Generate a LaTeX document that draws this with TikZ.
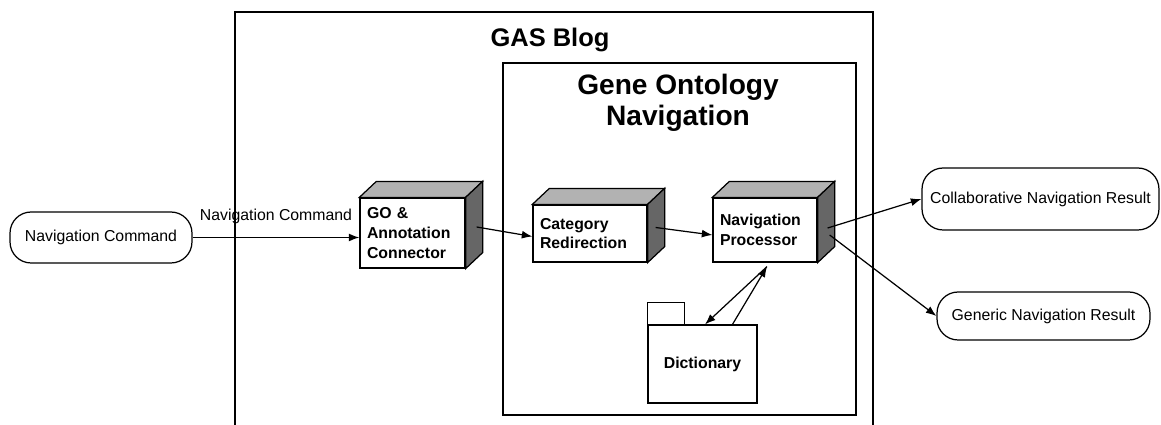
\documentclass[tikz,border=0pt]{standalone}
\usepackage{fontspec}
\setmainfont{Liberation Sans}
\usetikzlibrary{arrows.meta,calc}
\def\dx{17}
\def\dy{-16}
% shaded top and side of a box node
\newcommand\cubeface[1]{%
	\draw[fill=black!30] (#1.north west) -- ++(\dx,\dy) -- ([shift={(\dx,\dy)}]#1.north east) -- (#1.north east) -- cycle;
	\draw[fill=black!60] (#1.north east) -- ++(\dx,\dy) -- ([shift={(\dx,\dy)}]#1.south east) -- (#1.south east) -- cycle;}
\tikzset{
	cube/.style={draw, fill=white, align=left, inner xsep=4pt, font=\bfseries\fontsize{9}{11.3}\selectfont},
	state/.style={draw, rounded corners=12pt, inner sep=0pt, font=\fontsize{9}{11}\selectfont},
	folder/.style={draw, fill=white, inner sep=0pt, font=\bfseries\fontsize{9}{11}\selectfont},
	arr/.style={-{Latex[length=6pt,width=4.5pt]}},
	frame/.style={line width=0.9pt}
}

\begin{document}
\begin{tikzpicture}[x=0.02cm, y=-0.02cm, line width=0.7pt]
	\useasboundingbox (0,0) rectangle (1161,425);
	
	\draw[frame] (235,425) -- (235,12) -- (873,12) -- (873,425);
	\node[font=\bfseries\fontsize{14.5}{17}\selectfont] (blog) at (550,40) {GAS Blog};
	
	\draw[frame] (503,63) rectangle (856,415);
	\node[align=center, font=\bfseries\fontsize{16}{17.6}\selectfont] (gon) at (678,103) {Gene Ontology\\Navigation};
	
	\node[state, minimum width=3.64cm, minimum height=1.02cm] (navcmd) at (101,237.5) {Navigation Command};
	
	\node[cube, text width=1.82cm, minimum height=1.4cm] (go) at (412.5,233) {GO \&\\Annotation\\Connector};
	\cubeface{go}
	\node[cube, text width=2.0cm, minimum height=1.14cm] (cat) at (590,233.5) {Category\\Redirection};
	\cubeface{cat}
	\node[cube, text width=1.8cm, minimum height=1.28cm] (nav) at (765,230) {Navigation\\Processor};
	\cubeface{nav}
	
	\node[folder, minimum width=2.18cm, minimum height=1.56cm] (dict) at (702.5,364) {Dictionary};
	\draw (dict.north west) rectangle ++(37,-22);
	
	\node[state, minimum width=4.74cm, minimum height=1.24cm] (collab) at (1040.5,199) {Collaborative Navigation Result};
	\node[state, minimum width=4.26cm, minimum height=0.96cm] (generic) at (1043.5,316) {Generic Navigation Result};
	
	\draw[arr] (navcmd.east) -- node[above=4pt, font=\fontsize{9}{11}\selectfont] (cmdlabel) {Navigation Command} (navcmd.east -| go.west);
	\draw[arr] ([shift={(11,-6)}]go.east) -- ([yshift=-0.06cm]cat.west);
	\draw[arr] ([shift={(8,-6)}]cat.east) -- ([yshift=-0.1cm]nav.west);
	\draw[arr] ([shift={(10,-2)}]nav.east) -- (collab.west);
	\draw[arr] ([shift={(12,5)}]nav.east) -- (generic.west);
	\draw[arr] ([shift={(2,4)}]nav.south) -- ([xshift=0.05cm]dict.north);
	\draw[arr] ([xshift=0.6cm]dict.north) -- ([shift={(2,4)}]nav.south);
\end{tikzpicture}
\end{document}
